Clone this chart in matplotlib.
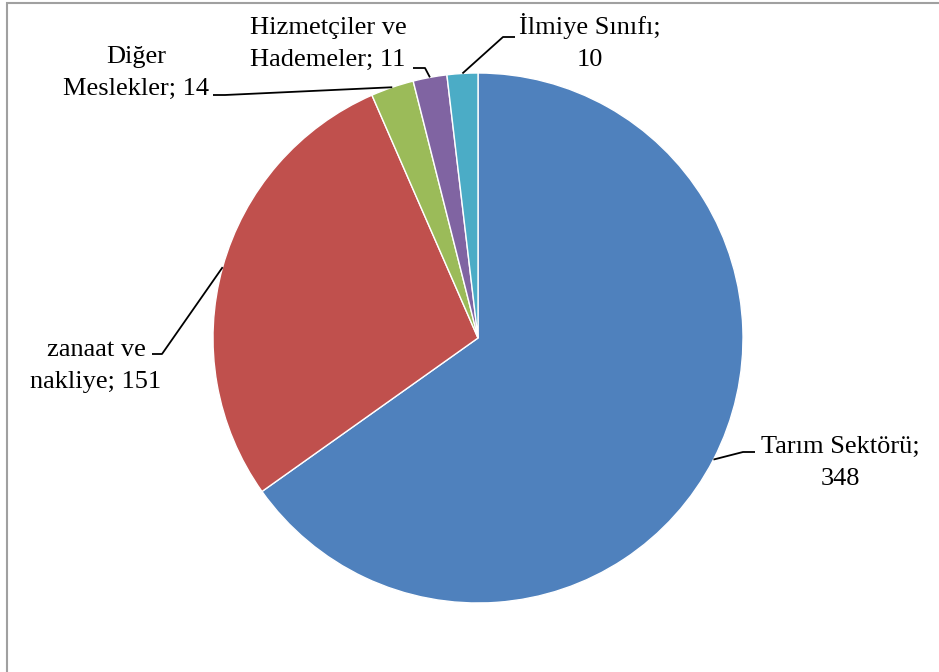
import numpy as np
import matplotlib
matplotlib.use('Agg')
from matplotlib import pyplot as plt
from matplotlib.patches import Rectangle

# Veriler
categories = ['Tarım Sektörü', 'zanaat ve\nnakliye', 'Diğer\nMeslekler',
              'Hizmetçiler ve\nHademeler', 'İlmiye Sınıfı']
values = [348, 151, 14, 11, 10]
colors = ['#4F81BD', '#C0504D', '#9BBB59', '#8064A2', '#4BACC6']
separators = [';\n', '; ', '; ', '; ', ';\n']

W, H = 939, 672
fig = plt.figure(figsize=(W / 100, H / 100), dpi=100)
ax = fig.add_axes([0, 0, 1, 1])

cx, cy, r = 478, 338, 265

# y ekseni ters oldugu icin counterclock=True ekranda saat yonunde cizer
wedges, _ = ax.pie(values, colors=colors, center=(cx, cy), radius=r,
                   startangle=-90, counterclock=True,
                   wedgeprops=dict(edgecolor='white', linewidth=1.0))
ax.set_xlim(0, W)
ax.set_ylim(H, 0)
ax.set_aspect('auto')
ax.axis('off')

# Etiket konumlari (piksel) ve kilavuz cizgi kirilma noktalari
text_pos = [(840, 463), (96, 366), (136, 73), (328, 44), (590, 42)]
elbows = [[(743, 452), (755, 452)],
          [(162, 354), (152, 354)],
          [(225, 95), (213, 95)],
          [(425, 68), (413, 68)],
          [(503, 37), (515, 37)]]

for w, cat, sep, val, pos, elb in zip(wedges, categories, separators,
                                      values, text_pos, elbows):
    mid = np.deg2rad((w.theta1 + w.theta2) / 2)
    px = cx + r * np.cos(mid)
    py = cy + r * np.sin(mid)
    xs = [px] + [e[0] for e in elb]
    ys = [py] + [e[1] for e in elb]
    ax.plot(xs, ys, color='black', linewidth=1.3, solid_capstyle='butt')
    ax.text(pos[0], pos[1], f'{cat}{sep}{val}', ha='center', va='center',
            fontsize=19, family='Liberation Serif', linespacing=1.55)

# Cerceve
fig.patches.append(Rectangle((7 / W, -0.1), 1.2, (H - 2.5) / H + 0.1,
                             transform=fig.transFigure, fill=False,
                             edgecolor='#a0a0a0', linewidth=1.5))

fig.savefig('out.png', dpi=100)
